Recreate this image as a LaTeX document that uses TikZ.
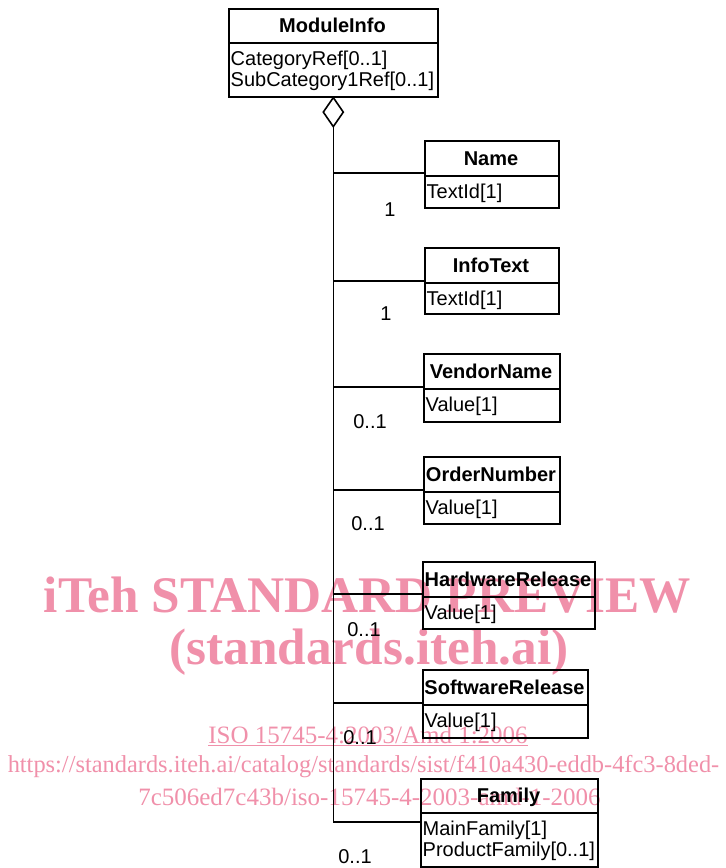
\documentclass[tikz,border=0pt]{standalone}
\usepackage{fontspec}
\setmainfont{Liberation Sans}
\newfontfamily\wmserif{Liberation Serif}
\usetikzlibrary{calc}
\definecolor{wmpink}{RGB}{240,144,170}

% #1 node name, #2 left, #3 top, #4 right, #5 bottom, #6 separator y,
% #7 class title, #8 first attribute line, #9 second attribute line (may be empty)
\newcommand\umlclass[9]{%
  \node[classbox, minimum width={#4pt-#2pt}, minimum height={#5pt-#3pt}] (#1) at (#2,#3) {};
  \draw[boxline] (#1.west |- 0,#6) -- (#1.east |- 0,#6);
  \node[classtitle] (#1-title) at ({(#2+#4)/2},{(#3+#6)/2+7}) {#7};
  \node[classattr] (#1-attr1) at ({#2+2.5},{#6+22}) {#8};
  \if\relax\detokenize{#9}\relax\else
    \node[classattr] (#1-attr2) at ({#2+2.5},{#6+43}) {#9};
  \fi
}

\begin{document}
\begin{tikzpicture}[x=1pt,y=-1pt,
  boxline/.style={line width=1.6pt},
  classbox/.style={draw, boxline, inner sep=0pt, anchor=north west},
  classtitle/.style={font=\fontsize{20}{22}\selectfont\bfseries, inner sep=0pt, anchor=base},
  classattr/.style={font=\fontsize{20}{20}\selectfont, inner sep=0pt, anchor=base west},
  assoc/.style={line width=1.3pt, draw=black},
  mult/.style={font=\fontsize{20}{20}\selectfont, inner sep=0pt},
  wm/.style={text=wmpink, inner sep=0pt, anchor=base},
  wmbig/.style={wm, font=\wmserif\bfseries\fontsize{51.3}{51.3}\selectfont},
  wmsmall/.style={wm, font=\wmserif\fontsize{25}{25}\selectfont},
]
\useasboundingbox (0,0) rectangle (726,868);

% watermark
\node[wmbig] (wm1) at (367.5,612) {iTeh STANDARD PREVIEW};
\node[wmbig] (wm2) at (369,664) {(standards.iteh.ai)};
\node[wmsmall] (wm3) at (368,743) {\underline{ISO 15745-4:2003/Amd 1:2006}};
\node[wmsmall, font=\wmserif\fontsize{24.4}{24.4}\selectfont] (wm4) at (363.5,772) {https://standards.iteh.ai/catalog/standards/sist/f410a430-eddb-4fc3-8ded-};
\node[wmsmall] (wm5) at (369.5,805) {7c506ed7c43b/iso-15745-4-2003-amd-1-2006};

% classes
\umlclass{moduleinfo}{228}{8}{437}{96}{43}{ModuleInfo}{CategoryRef[0..1]}{SubCategory1Ref[0..1]}
\umlclass{name}{424}{140}{558}{207}{176}{Name}{TextId[1]}{}
\umlclass{infotext}{424}{247}{558}{313}{283}{InfoText}{TextId[1]}{}
\umlclass{vendorname}{423}{353}{559}{421}{389}{VendorName}{Value[1]}{}
\umlclass{ordernumber}{423}{456}{559}{523}{492}{OrderNumber}{Value[1]}{}
\umlclass{hwrelease}{422}{561}{594}{628}{597}{HardwareRelease}{Value[1]}{}
\umlclass{swrelease}{422}{669}{587}{737}{705}{SoftwareRelease}{Value[1]}{}
\umlclass{family}{420}{778}{597}{866}{813}{Family}{MainFamily[1]}{ProductFamily[0..1]}

% aggregation diamond under ModuleInfo; its lower tip is the start of every association
\path (moduleinfo.south) ++(0,29) coordinate (agg);

% associations
\draw[assoc] (agg) |- (name.west |- 0,173);
\draw[assoc] (agg) |- (infotext.west |- 0,281);
\draw[assoc] (agg) |- (vendorname.west |- 0,387);
\draw[assoc] (agg) |- (ordernumber.west |- 0,490);
\draw[assoc] (agg) |- (hwrelease.west |- 0,594);
\draw[assoc] (agg) |- (swrelease.west |- 0,703);
\draw[assoc] (agg) |- (family.west |- 0,822);

\draw[boxline, fill=white] (moduleinfo.south) -- ++(-10,14.5) -- (agg) -- ++(10,-14.5) -- cycle;

% multiplicities
\node[mult] (m-name) at (390,210) {1};
\node[mult] (m-infotext) at (386,314) {1};
\node[mult] (m-vendorname) at (370,422) {0..1};
\node[mult] (m-ordernumber) at (368,524) {0..1};
\node[mult] (m-hwrelease) at (364,630) {0..1};
\node[mult] (m-swrelease) at (360,738) {0..1};
\node[mult] (m-family) at (355,857) {0..1};
\end{tikzpicture}
\end{document}
